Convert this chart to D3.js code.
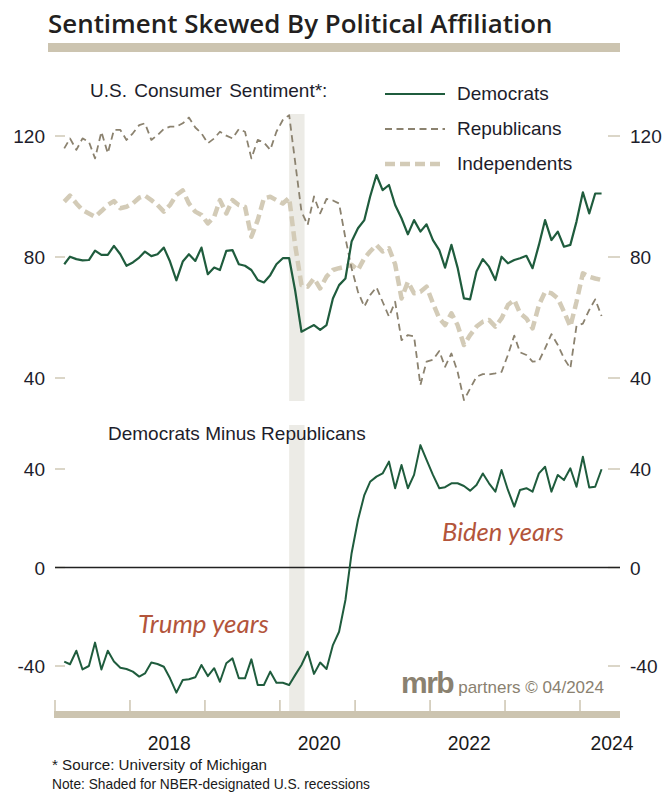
<!DOCTYPE html>
<html>
<head>
<meta charset="utf-8">
<script src="https://cdn.jsdelivr.net/npm/d3@7"></script>
<style>
  body { margin: 0; background: #fff; }
</style>
</head>
<body>
<div id="chart"></div>
<script>
// monthly readings, Feb 2017 .. Apr 2024 (University of Michigan, by party)
var firstMonth = new Date(2017, 1, 15);

var democrats = [
  77.6, 80.1, 79.3, 78.9, 79.0, 82.1, 80.7, 80.7, 83.7, 80.9, 77.1,
  78.2, 79.8, 81.8, 80.3, 80.9, 83.1, 78.5, 72.3, 78.5, 80.9, 78.7, 83.1,
  74.3, 76.5, 75.7, 82.0, 82.3, 77.6, 77.1, 75.7, 72.4, 71.6, 74.0, 77.6,
  79.6, 79.6, 69.0, 55.3, 56.4, 57.5, 55.9, 57.5, 66.3, 70.7, 72.9, 85.1,
  89.5, 92.2, 99.9, 107.1, 102.1, 103.8, 97.2, 92.8, 87.5, 92.2, 88.4, 90.8,
  85.6, 82.3, 76.5, 84.0, 76.5, 66.3, 66.0, 75.2, 79.3, 76.8, 72.4, 80.1,
  77.9, 79.0, 79.6, 80.4, 76.3, 84.0, 92.2, 85.6, 88.4, 83.4, 84.0, 91.7,
  101.4, 94.4, 101.0, 101.0
];

var republicans = [
  115.9, 119.2, 115.4, 119.2, 118.1, 112.6, 121.4, 114.3, 122.0, 122.0, 118.7,
  120.9, 123.6, 124.2, 118.7, 120.3, 122.3, 123.1, 123.1, 124.2, 126.1, 122.8, 120.9,
  117.6, 119.2, 121.4, 120.1, 119.2, 122.3, 121.4, 112.6, 118.7, 117.9, 115.4, 121.4,
  125.3, 126.9, 111.5, 95.0, 90.6, 100.0, 94.4, 99.2, 98.7, 97.7, 86.2, 76.3,
  68.5, 63.6, 67.4, 70.0, 65.2, 60.3, 65.2, 52.5, 54.2, 53.8, 37.7, 45.4,
  46.0, 48.9, 43.7, 48.1, 42.1, 32.7, 36.5, 40.4, 41.3, 41.2, 41.5, 42.0,
  47.6, 54.0, 48.5, 47.6, 45.4, 45.6, 49.8, 54.5, 50.9, 46.5, 43.2, 57.2,
  58.0, 62.5, 66.0, 60.5
];

var independents = [
  98.3, 100.3, 97.7, 95.5, 94.4, 93.3, 95.2, 97.2, 98.5, 96.1, 96.6,
  97.7, 99.6, 100.3, 98.8, 97.2, 95.0, 97.2, 100.5, 102.0, 97.7, 95.0, 93.9,
  91.1, 93.3, 98.8, 94.4, 98.8, 97.2, 96.6, 86.7, 92.2, 99.4, 99.9, 98.8,
  97.7, 99.6, 84.0, 70.7, 70.2, 72.9, 69.6, 73.5, 75.7, 76.3, 76.8, 77.4,
  75.7, 79.6, 81.8, 84.0, 81.8, 82.9, 77.6, 66.3, 71.8, 68.0, 68.5, 70.2,
  64.7, 59.7, 57.5, 61.4, 57.5, 50.9, 54.2, 57.0, 58.6, 59.2, 57.0, 59.7,
  64.1, 65.8, 61.4, 59.7, 56.4, 64.1, 68.5, 68.0, 66.3, 61.9, 57.0, 65.2,
  74.6, 73.5, 72.9, 72.4
];

var demMinusRep = [
  -38.2, -39.3, -33.8, -41.4, -40.0, -30.5, -41.4, -33.8, -38.2, -40.7, -41.2,
  -42.3, -44.3, -43.0, -38.6, -39.2, -40.3, -45.0, -50.8, -45.7, -45.4, -44.6, -39.6,
  -44.1, -40.9, -46.4, -38.9, -36.9, -45.0, -45.0, -37.3, -47.7, -47.7, -42.3, -46.8,
  -46.8, -47.7, -43.7, -39.6, -34.2, -43.2, -38.6, -41.2, -31.5, -26.1, -13.2, 5.8,
  19.3, 29.4, 34.8, 36.9, 38.2, 43.0, 32.2, 41.6, 32.2, 37.6, 49.7, 43.7,
  37.6, 32.2, 32.6, 34.2, 34.2, 33.1, 31.2, 33.5, 38.2, 34.2, 30.8, 39.6,
  31.5, 24.7, 31.5, 32.2, 30.8, 38.2, 40.9, 30.8, 37.6, 35.5, 40.3, 32.8,
  45.0, 32.5, 32.8, 39.9
];

var topTicks = [120, 80, 40];
var bottomTicks = [40, 0, -40];
var yearTicks = [2017, 2018, 2019, 2020, 2021, 2022, 2023, 2024];
var yearLabels = [2018, 2020, 2022, 2024];
var recession = [new Date(2020, 1, 15), new Date(2020, 3, 30)];

var legendItems = [
  { name: "Democrats", key: "dem" },
  { name: "Republicans", key: "rep" },
  { name: "Independents", key: "ind" }
];

var w = 665, h = 792;
var green = "#1f5c3d", repColor = "#8b826f", indColor = "#d3cbb7";
var tan = "#ccc4b0", tickColor = "#cfc8b6", labelColor = "#1d1d2b";
var rust = "#b3553b", shade = "#ecebe6";
var sans = "'Liberation Sans', Arial, sans-serif";

var svg = d3.select("#chart").append("svg")
    .attr("width", w)
    .attr("height", h)
    .style("display", "block");

function monthDate(i) { return d3.timeMonth.offset(firstMonth, i); }

// fit a text element to a measured width by scaling its font size
function fit(sel, width) {
    var bw = sel.node().getBBox().width;
    if(bw > 0) sel.attr("font-size", parseFloat(sel.attr("font-size")) * width / bw);
    return sel;
}

// squeeze glyphs horizontally, to stand in for a condensed face
function squeeze(sel, width) {
    return sel.attr("textLength", width).attr("lengthAdjust", "spacingAndGlyphs");
}

var x = d3.scaleTime()
    .domain([new Date(2017, 0, 1), new Date(2024, 0, 1)])
    .range([55, 580]);

var yTop = d3.scaleLinear().domain([40, 120]).range([378, 136]);
var yBot = d3.scaleLinear().domain([-40, 40]).range([666, 469]);

// title + bar
fit(svg.append("text")
    .attr("x", 48).attr("y", 33)
    .attr("font-family", "'Open Sans', 'Noto Sans', sans-serif")
    .attr("font-weight", 600)
    .attr("font-size", 24)
    .attr("fill", "#231f20")
    .text("Sentiment Skewed By Political Affiliation"), 505);

svg.append("rect")
    .attr("x", 48).attr("y", 43)
    .attr("width", 572).attr("height", 9)
    .attr("fill", tan);

// recession shading in both panels
[[114, 401], [425, 711]].forEach(function(p) {
    svg.append("rect")
        .attr("x", x(recession[0]))
        .attr("y", p[0])
        .attr("width", x(recession[1]) - x(recession[0]))
        .attr("height", p[1] - p[0])
        .attr("fill", shade);
});

// y ticks + labels, both sides
function yAxisMarks(scale, ticks) {
    ticks.forEach(function(t) {
        var yy = scale(t);
        [[55, 65], [608, 620]].forEach(function(seg) {
            svg.append("line")
                .attr("x1", seg[0]).attr("x2", seg[1])
                .attr("y1", yy).attr("y2", yy)
                .style("stroke", tickColor)
                .style("stroke-width", 1.5);
        });
        svg.append("text")
            .attr("x", 45).attr("y", yy + 7)
            .attr("text-anchor", "end")
            .attr("font-family", sans).attr("font-size", 19)
            .attr("fill", labelColor)
            .text(t);
        svg.append("text")
            .attr("x", 630).attr("y", yy + 7)
            .attr("font-family", sans).attr("font-size", 19)
            .attr("fill", labelColor)
            .text(t);
    });
}
yAxisMarks(yTop, topTicks);
yAxisMarks(yBot, bottomTicks);

// zero line
svg.append("line")
    .attr("x1", 55).attr("x2", 620)
    .attr("y1", yBot(0)).attr("y2", yBot(0))
    .style("stroke", "#222")
    .style("stroke-width", 1.6);

// panel headings
svg.append("text")
    .attr("x", 90).attr("y", 97)
    .attr("font-family", sans).attr("font-size", 19)
    .attr("fill", labelColor)
    .attr("word-spacing", 2)
    .text("U.S. Consumer Sentiment*:");

svg.append("text")
    .attr("x", 108).attr("y", 440)
    .attr("font-family", sans).attr("font-size", 19)
    .attr("fill", labelColor)
    .text("Democrats Minus Republicans");

// lines
function lineFor(scale) {
    return d3.line()
        .x(function(d, i) { return x(monthDate(i)); })
        .y(function(d) { return scale(d); });
}

var styles = {
    dem: { color: green, width: 2.2, dash: null },
    rep: { color: repColor, width: 1.8, dash: "7,4.5" },
    ind: { color: indColor, width: 4.5, dash: "10,5" }
};

[["ind", independents], ["rep", republicans], ["dem", democrats]].forEach(function(s) {
    var st = styles[s[0]];
    svg.append("path")
        .datum(s[1])
        .attr("d", lineFor(yTop))
        .style("fill", "none")
        .style("stroke", st.color)
        .style("stroke-width", st.width)
        .style("stroke-dasharray", st.dash)
        .style("stroke-linejoin", "round");
});

svg.append("path")
    .datum(demMinusRep)
    .attr("d", lineFor(yBot))
    .style("fill", "none")
    .style("stroke", green)
    .style("stroke-width", 2)
    .style("stroke-linejoin", "round");

// legend
legendItems.forEach(function(item, i) {
    var st = styles[item.key];
    var ly = 94 + i * 35;
    svg.append("line")
        .attr("x1", 385).attr("x2", 445)
        .attr("y1", ly).attr("y2", ly)
        .style("stroke", st.color)
        .style("stroke-width", st.width)
        .style("stroke-dasharray", st.dash);
    svg.append("text")
        .attr("x", 457).attr("y", ly + 6)
        .attr("font-family", sans).attr("font-size", 19)
        .attr("fill", labelColor)
        .text(item.name);
});

// annotations
fit(svg.append("text")
    .attr("x", 442).attr("y", 541)
    .attr("font-family", "Lato, 'Open Sans', sans-serif")
    .attr("font-style", "italic")
    .attr("font-size", 23)
    .attr("fill", rust)
    .text("Biden years"), 122);

fit(svg.append("text")
    .attr("x", 138).attr("y", 633)
    .attr("font-family", "Lato, 'Open Sans', sans-serif")
    .attr("font-style", "italic")
    .attr("font-size", 23)
    .attr("fill", rust)
    .text("Trump years"), 131);

// logo
var logo = svg.append("text")
    .attr("x", 401).attr("y", 693)
    .attr("fill", "#8a8170")
    .attr("font-family", sans);
logo.append("tspan")
    .attr("font-size", 30).attr("font-weight", "bold")
    .attr("letter-spacing", -1.5)
    .text("mrb");
logo.append("tspan")
    .attr("dx", 5)
    .attr("font-size", 17)
    .text("partners \u00a9 04/2024");

// x axis
svg.append("rect")
    .attr("x", 54).attr("y", 711)
    .attr("width", 566).attr("height", 7)
    .attr("fill", tan);

svg.selectAll(".xtick")
    .data(yearTicks)
    .enter()
    .append("line")
    .attr("class", "xtick")
    .attr("x1", function(d) { return x(new Date(d, 0, 1)); })
    .attr("x2", function(d) { return x(new Date(d, 0, 1)); })
    .attr("y1", 700).attr("y2", 711)
    .style("stroke", tan)
    .style("stroke-width", 1.5);

yearLabels.forEach(function(yr) {
    var cx = Math.min(x(new Date(yr, 6, 1)) + 2, 612);
    squeeze(svg.append("text")
        .attr("x", cx - 21.5).attr("y", 750)
        .attr("font-family", sans)
        .attr("font-size", 21)
        .attr("fill", "#1a1a1a")
        .text(yr), 43);
});

// footnotes
squeeze(svg.append("text")
    .attr("x", 52).attr("y", 770)
    .attr("font-family", sans).attr("font-size", 14.5)
    .attr("fill", "#1a1a1a")
    .text("* Source: University of Michigan"), 215);

squeeze(svg.append("text")
    .attr("x", 52).attr("y", 789)
    .attr("font-family", sans).attr("font-size", 14.5)
    .attr("fill", "#1a1a1a")
    .text("Note: Shaded for NBER-designated U.S. recessions"), 318);
</script>
</body>
</html>
